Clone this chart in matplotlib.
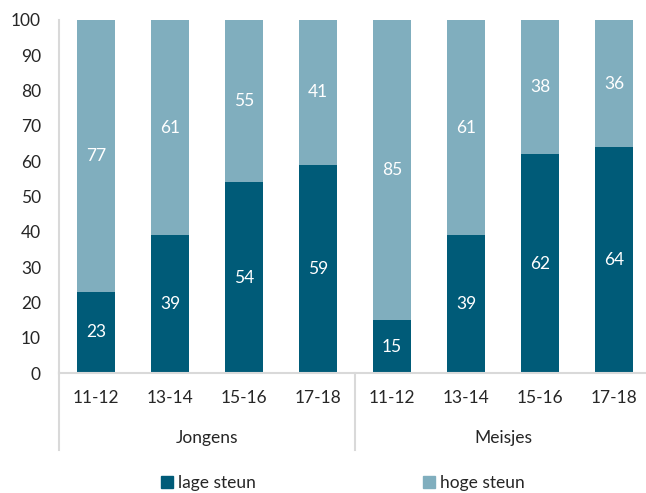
import matplotlib
import matplotlib.pyplot as plt
from matplotlib.patches import Patch

leeftijd = ["11-12", "13-14", "15-16", "17-18", "11-12", "13-14", "15-16", "17-18"]
groepen = ["Jongens", "Meisjes"]
lage_steun = [23, 39, 54, 59, 15, 39, 62, 64]
hoge_steun = [77, 61, 55, 41, 85, 61, 38, 36]

donker = "#005B78"
licht = "#80AEBE"
lijn = "#D9D9D9"
tekst = "#262626"
fs = 12.5

plt.rcParams["font.family"] = ["Lato", "DejaVu Sans"]
plt.rcParams["font.size"] = fs
plt.rcParams["text.color"] = tekst

fig = plt.figure(figsize=(6.46, 4.93), dpi=100)
ax = fig.add_axes([59 / 646, 1 - 373 / 493, 592 / 646, 353 / 493])

x = list(range(len(leeftijd)))
b1 = ax.bar(x, lage_steun, width=0.52, color=donker)
b2 = ax.bar(x, hoge_steun, width=0.52, bottom=lage_steun, color=licht)
ax.bar_label(b1, label_type="center", color="white", fontsize=fs)
ax.bar_label(b2, label_type="center", color="white", fontsize=fs)

ax.set_xlim(-0.5, len(leeftijd) - 0.5)
ax.set_ylim(0, 100)
ax.set_yticks(range(0, 101, 10))
ax.tick_params(axis="y", length=0, pad=13, labelcolor=tekst, labelsize=fs)
ax.set_xticks([])
for s in ["top", "right"]:
    ax.spines[s].set_visible(False)
for s in ["left", "bottom"]:
    ax.spines[s].set_color(lijn)
    ax.spines[s].set_linewidth(1.5)

trans = ax.get_xaxis_transform()
for i, lab in enumerate(leeftijd):
    ax.text(i, -0.071, lab, transform=trans, ha="center", va="center", fontsize=fs)
for g, naam in enumerate(groepen):
    ax.text(g * 4 + 1.5, -0.184, naam, transform=trans, ha="center", va="center", fontsize=fs)
for xs in [-0.5, 3.5, 7.5]:
    ax.plot([xs, xs], [0, -0.218], transform=trans, color=lijn, lw=1.5, clip_on=False)

handles = [Patch(color=donker), Patch(color=licht)]
fig.legend(handles, ["lage steun", "hoge steun"], loc="center", ncol=2,
           bbox_to_anchor=(0.531, 0.02), frameon=False, fontsize=fs,
           handlelength=0.7, handleheight=0.7, handletextpad=0.3, columnspacing=9.6)

fig.savefig("out.png", dpi=100)
